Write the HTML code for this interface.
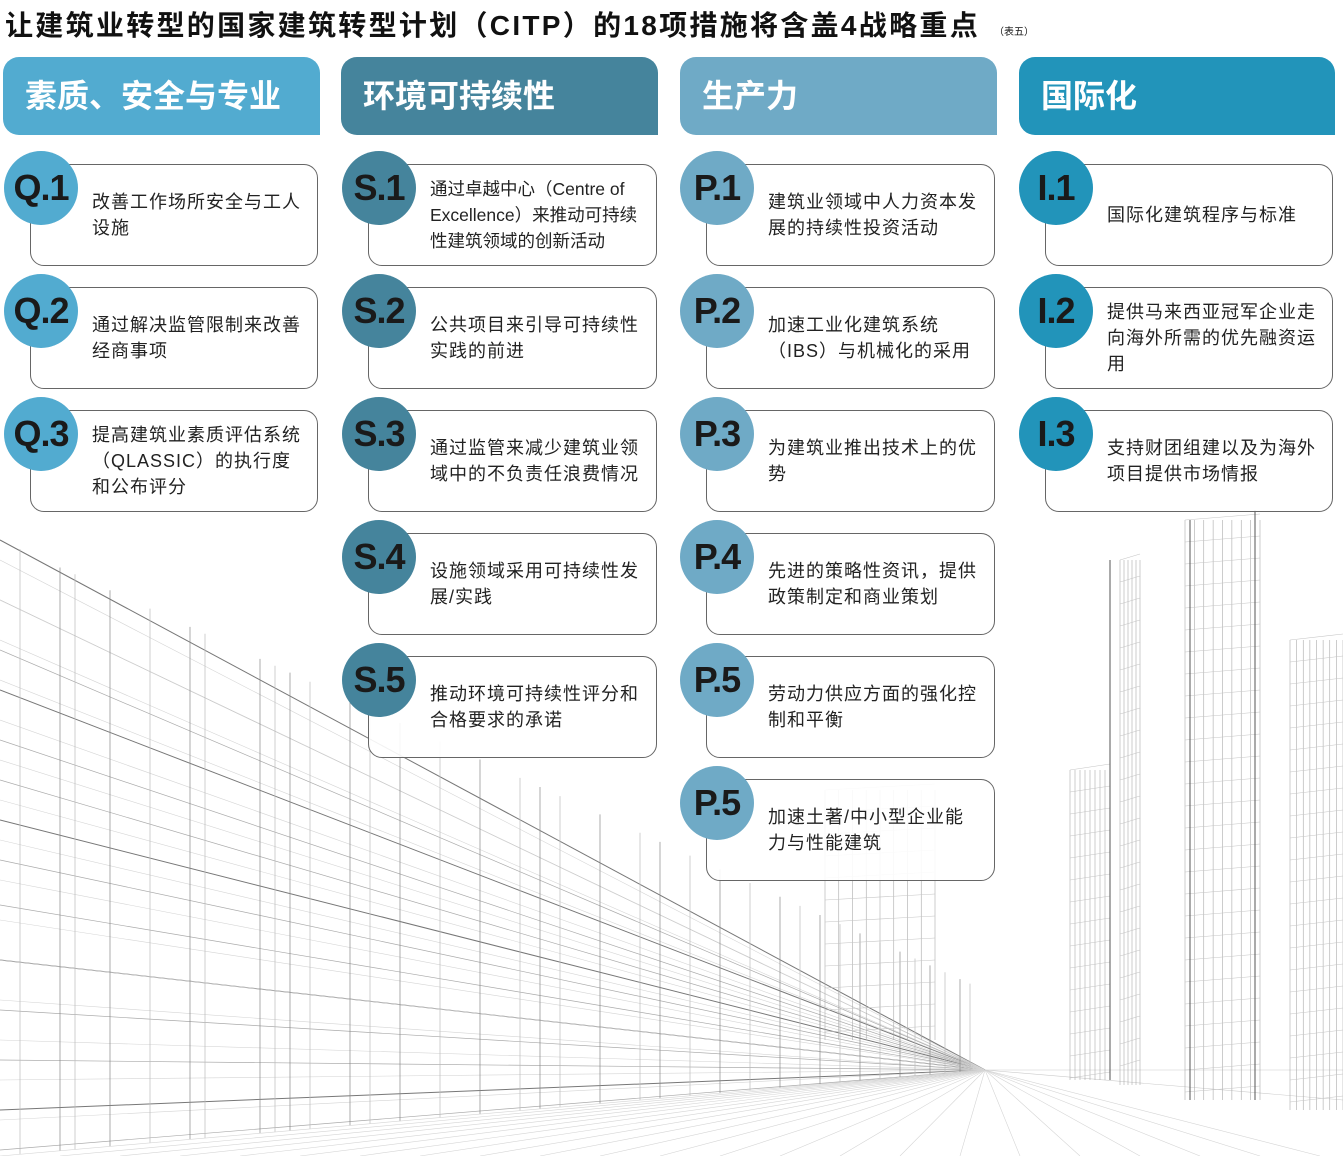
<!DOCTYPE html>
<html><head><meta charset="utf-8"><style>
body{margin:0;width:1343px;height:1156px;background:#fff;position:relative;overflow:hidden;font-family:"Liberation Sans","Noto Sans CJK SC",sans-serif;}
#bg{position:absolute;left:0;top:0}
.title{position:absolute;left:5px;top:4px;font-size:28px;font-weight:bold;color:#111;white-space:nowrap;letter-spacing:2.3px}
.title small{font-size:10px;font-weight:normal;margin-left:14px;letter-spacing:0}
.hd{position:absolute;top:57px;height:78px;width:317px;border-radius:16px 16px 0 16px;color:#fff;font-size:32px;font-weight:bold;line-height:78px;padding-left:22px;box-sizing:border-box}
.card{position:absolute;height:102px;border:1.3px solid #666;border-radius:14px;background:rgba(255,255,255,.9);box-sizing:border-box;display:flex;align-items:center;}
.card .t{margin-left:61px;width:214px;font-size:18px;letter-spacing:1px;line-height:26px;color:#222}
.c{position:absolute;width:74px;height:74px;border-radius:50%;font-size:36px;font-weight:bold;color:#1a1a1a;text-align:center;line-height:74px;letter-spacing:-1px;font-family:"Liberation Sans Narrow","Liberation Sans",sans-serif}
</style></head><body>
<svg id="bg" width="1343" height="1156"></svg>
<div class="title">让建筑业转型的国家建筑转型计划（CITP）的18项措施将含盖4战略重点<small>（表五）</small></div>
<div class="hd" style="left:3px;background:#52abd0">素质、安全与专业</div>
<div class="hd" style="left:341px;background:#45849c">环境可持续性</div>
<div class="hd" style="left:680px;background:#6faac6">生产力</div>
<div class="hd" style="left:1019px;background:#2294ba;width:316px">国际化</div>
<div id="cards"></div>
<script>
var cols=[[30,288,'#52abd0'],[368,289,'#45849c'],[706,289,'#6faac6'],[1045,288,'#2294ba']];
var data=[
[['Q.1','改善工作场所安全与工人设施'],['Q.2','通过解决监管限制来改善经商事项'],['Q.3','提高建筑业素质评估系统（QLASSIC）的执行度和公布评分']],
[['S.1','通过卓越中心（Centre of Excellence）来推动可持续性建筑领域的创新活动'],['S.2','公共项目来引导可持续性实践的前进'],['S.3','通过监管来减少建筑业领域中的不负责任浪费情况'],['S.4','设施领域采用可持续性发展/实践'],['S.5','推动环境可持续性评分和合格要求的承诺']],
[['P.1','建筑业领域中人力资本发展的持续性投资活动'],['P.2','加速工业化建筑系统（IBS）与机械化的采用'],['P.3','为建筑业推出技术上的优势'],['P.4','先进的策略性资讯，提供政策制定和商业策划'],['P.5','劳动力供应方面的强化控制和平衡'],['P.5','加速土著/中小型企业能力与性能建筑']],
[['I.1','国际化建筑程序与标准'],['I.2','提供马来西亚冠军企业走向海外所需的优先融资运用'],['I.3','支持财团组建以及为海外项目提供市场情报']]];
var h='';
data.forEach(function(col,i){var c=cols[i];col.forEach(function(it,j){var y=164+j*123;
var st=it[1].indexOf('Centre')>=0?' style="letter-spacing:0;font-size:17.5px"':'';
h+='<div class="card" style="left:'+c[0]+'px;top:'+y+'px;width:'+c[1]+'px"><div class="t"'+st+'>'+it[1]+'</div></div>';
h+='<div class="c" style="left:'+(c[0]-26)+'px;top:'+(y-13)+'px;background:'+c[2]+'">'+it[0]+'</div>';});});
document.getElementById('cards').innerHTML=h;
var s='',vx=985,vy=1070;
function L(x1,y1,x2,y2,c,w){s+='<line x1="'+x1+'" y1="'+y1+'" x2="'+x2+'" y2="'+y2+'" stroke="'+c+'" stroke-width="'+(w||1)+'"/>';}
var ys=[540,600,650,690,740,780,820,860,905,960,1010,1060,1110,1150];
ys.forEach(function(y,k){L(0,y,vx,vy,k%3==0?'#777':'#aaa',k%3==0?1:0.7);});
for(var y=560;y<1156;y+=40)L(0,y,vx,vy,'#d5d5d5',0.6);
var xs=[20,60,75,110,150,190,205,260,275,290,310,350,370,400,440,480,520,540,560,600,640,660,690,720,750,780,800,820,840,860,880,900,915,930,945,960,970];
xs.forEach(function(x,k){var t=x/vx;var top=540+(vy-540)*t*0.85;var bot=1156-(1156-vy)*t;L(x,top,x,bot,k%2?'#888':'#bbb',0.7);});
for(var x=0;x<1343;x+=60)L(vx,vy,x,1156,'#d5d5d5',0.6);
L(vx,vy,1343,1100,'#ccc',0.6);L(vx,vy,1343,1070,'#ccc',0.6);
[[1070,770,1110,1080],[1120,560,1140,1085],[1185,520,1260,1100],[1290,640,1343,1110],[825,790,935,1040]].forEach(function(b){
for(var x=b[0];x<=b[2];x+=Math.max(4,(b[2]-b[0])/8))L(x,b[1],x,b[3],'#aaa',0.6);
for(var y=b[1];y<b[3];y+=22)L(b[0],y,b[2],y-6,'#c5c5c5',0.6);});
L(1110,560,1110,1080,'#555',1);L(1190,520,1190,1100,'#555',1);L(1255,510,1255,1100,'#555',1);
document.getElementById('bg').innerHTML=s;
</script>
</body></html>
